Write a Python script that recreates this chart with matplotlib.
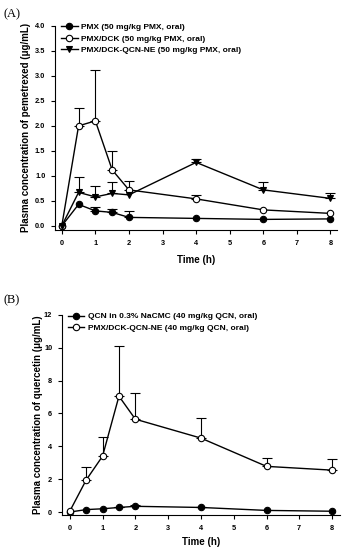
import numpy as np
import matplotlib.pyplot as plt

plt.rcParams['font.family'] = ['Liberation Sans', 'DejaVu Sans']
plt.rcParams['font.weight'] = 'bold'

# ---- panel A data: pemetrexed
time = [0, 0.5, 1, 1.5, 2, 4, 6, 8]
pmx = [0, 0.43, 0.30, 0.27, 0.17, 0.15, 0.13, 0.14]
pmx_sd = [0, 0.02, 0.07, 0.06, 0.12, 0.02, 0.02, 0.02]
pmx_dck = [0, 2.00, 2.10, 1.12, 0.72, 0.54, 0.32, 0.25]
pmx_dck_sd = [0, 0.36, 1.02, 0.38, 0.18, 0.08, 0.03, 0.03]
pmx_ne = [0, 0.67, 0.58, 0.65, 0.62, 1.27, 0.72, 0.55]
pmx_ne_sd = [0, 0.31, 0.21, 0.23, 0.0, 0.06, 0.15, 0.11]

# ---- panel B data: quercetin
qcn = [0, 0.15, 0.20, 0.28, 0.35, 0.28, 0.10, 0.05]
qcn_sd = [0, 0.03, 0.03, 0.04, 0.05, 0.04, 0.03, 0.02]
qcn_ne = [0.05, 1.95, 3.40, 7.05, 5.65, 4.50, 2.78, 2.55]
qcn_ne_sd = [0, 0.80, 1.15, 3.05, 1.60, 1.25, 0.52, 0.70]

labels_a = ['PMX (50 mg/kg PMX, oral)',
            'PMX/DCK (50 mg/kg PMX, oral)',
            'PMX/DCK-QCN-NE (50 mg/kg PMX, oral)']
labels_b = ['QCN in 0.3% NaCMC (40 mg/kg QCN, oral)',
            'PMX/DCK-QCN-NE (40 mg/kg QCN, oral)']


def draw_series(ax, y, sd, marker, face, label):
    # only the upper half of the error bar, like SigmaPlot
    sd = np.array(sd)
    keep = sd > 0.03
    ax.errorbar(np.array(time)[keep], np.array(y)[keep],
                yerr=[np.zeros(keep.sum()), sd[keep]], fmt='none',
                ecolor='black', elinewidth=0.8, capsize=3.5, capthick=0.8,
                zorder=1)
    ax.plot(time, y, color='black', lw=1.0, marker=marker, ms=4.6,
            mfc=face, mec='black', mew=0.8, label=label, zorder=3)


def style_axes(ax, ylab, xpad, ypad):
    for s in ['top', 'right']:
        ax.spines[s].set_visible(False)
    ax.spines['left'].set_linewidth(0.8)
    ax.spines['bottom'].set_linewidth(0.8)
    ax.tick_params(direction='out', length=3, width=0.8, labelsize=5.3, pad=4)
    ax.set_xticks(range(0, 9))
    for t in ax.get_xticklabels() + ax.get_yticklabels():
        t.set_fontweight('bold')
    ax.set_xlabel('Time (h)', fontsize=7, fontweight='bold', labelpad=xpad)
    ax.set_ylabel(ylab, fontsize=7, fontweight='bold', labelpad=ypad)


fig = plt.figure(figsize=(3.42, 5.5), dpi=100)

# panel A
ax1 = fig.add_axes([0.161, 0.582, 0.825, 0.371])
draw_series(ax1, pmx, pmx_sd, 'o', 'black', labels_a[0])
draw_series(ax1, pmx_dck, pmx_dck_sd, 'o', 'white', labels_a[1])
draw_series(ax1, pmx_ne, pmx_ne_sd, 'v', 'black', labels_a[2])
ax1.set_xlim(-0.2, 8.2)
ax1.set_ylim(-0.08, 4.0)
ax1.set_yticks(np.arange(0, 4.01, 0.5))
ax1.set_yticklabels(['%.1f' % v for v in np.arange(0, 4.01, 0.5)])
style_axes(ax1, 'Plasma concentration of pemetrexed (μg/mL)', 6, 3)
h, l = ax1.get_legend_handles_labels()
ax1.legend(h, l, loc='upper left', bbox_to_anchor=(0.0, 1.04), frameon=False,
           handlelength=2.0, handletextpad=0.4, labelspacing=0.4,
           borderaxespad=0.3, prop={'weight': 'bold', 'size': 6})
fig.text(0.01, 0.985, '(A)', family='Liberation Serif', fontsize=9,
         fontweight='normal', va='top')

# panel B
ax2 = fig.add_axes([0.181, 0.0636, 0.813, 0.364])
draw_series(ax2, qcn, qcn_sd, 'o', 'black', labels_b[0])
draw_series(ax2, qcn_ne, qcn_ne_sd, 'o', 'white', labels_b[1])
ax2.set_xlim(-0.24, 8.24)
ax2.set_ylim(-0.18, 12)
ax2.set_yticks(range(0, 13, 2))
style_axes(ax2, 'Plasma concentration of quercetin (μg/mL)', 4, 1)
h, l = ax2.get_legend_handles_labels()
ax2.legend(h, l, loc='upper left', bbox_to_anchor=(0.0, 1.04), frameon=False,
           handlelength=2.0, handletextpad=0.4, labelspacing=0.4,
           borderaxespad=0.3, prop={'weight': 'bold', 'size': 6})
fig.text(0.01, 0.465, '(B)', family='Liberation Serif', fontsize=9,
         fontweight='normal', va='top')

fig.savefig('out.png', dpi=100)
